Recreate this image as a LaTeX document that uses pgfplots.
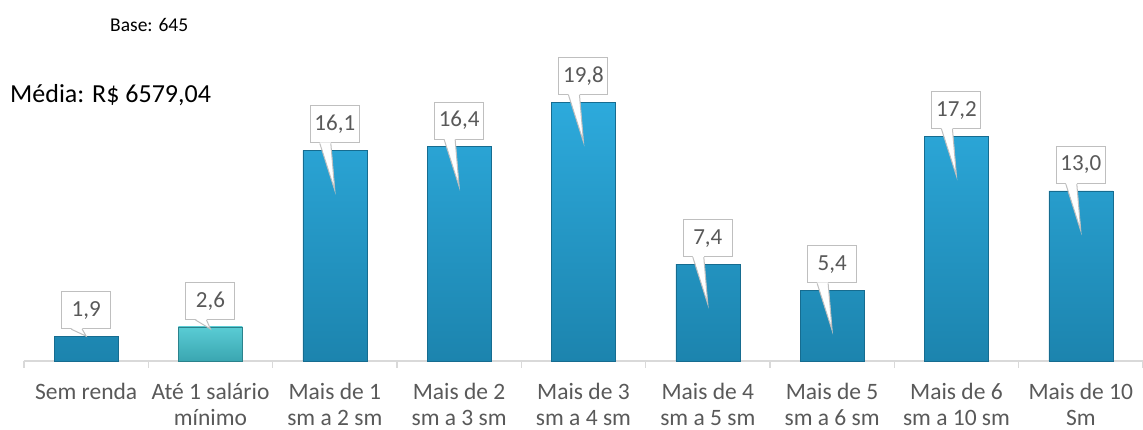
\documentclass[border=0pt]{standalone}
\usepackage{fontspec}
\setmainfont{Carlito}
\usepackage{pgfplots}
\pgfplotsset{compat=1.18}
\usepackage{pgfplotstable}

\definecolor{barTop}{HTML}{2DAADC}
\definecolor{barBot}{HTML}{1C84AE}
\definecolor{barEdge}{HTML}{166C90}
\definecolor{tealTop}{HTML}{5ACCD4}
\definecolor{tealBot}{HTML}{3AA6B1}
\definecolor{tealEdge}{HTML}{2B828C}
\definecolor{boxGray}{HTML}{BFBFBF}
\definecolor{txtGray}{HTML}{595959}
\definecolor{axGray}{HTML}{D9D9D9}

% x = category index, y = percent, tip = how far the callout pointer goes into the bar (pt)
\pgfplotstableread{
x y tip
0 1.9 0
1 2.6 2
2 16.1 40
3 16.4 40
4 19.8 40
5 7.4 40
6 5.4 40
7 17.2 40
8 13.0 40
}\alldata

\pgfplotstableread{
x y
0 1.9
2 16.1
3 16.4
4 19.8
5 7.4
6 5.4
7 17.2
8 13.0
}\bluedata

\pgfplotstableread{
x y
1 2.6
}\tealdata

\begin{document}
\begin{tikzpicture}
\useasboundingbox (-24pt,-69pt) rectangle (1119pt,361pt);
\begin{axis}[
  at={(0,0)}, anchor=south west,
  scale only axis, width=1119pt, height=300pt,
  xmin=-0.5, xmax=8.5, ymin=0, ymax=22.94,
  ybar, bar width=64pt,
  axis y line=none, axis x line*=bottom,
  x axis line style={draw=axGray, line width=1.3pt, -},
  xtick={0,...,8}, major tick length=0pt,
  minor xtick={-0.5,0.5,...,8.5}, minor tick length=7pt, tick align=outside,
  minor tick style={draw=axGray, line width=1.3pt},
  xticklabels={
    {\strut Sem renda},
    {\strut Até 1 salário\\mínimo},
    {\strut Mais de 1\\sm a 2 sm},
    {\strut Mais de 2\\sm a 3 sm},
    {\strut Mais de 3\\sm a 4 sm},
    {\strut Mais de 4\\sm a 5 sm},
    {\strut Mais de 5\\sm a 6 sm},
    {\strut Mais de 6\\sm a 10 sm},
    {\strut Mais de 10\\Sm}},
  xticklabel style={font=\fontsize{23.5}{26}\selectfont, text=txtGray, align=center,
    anchor=north, inner sep=0pt, yshift=-20pt},
  clip=false,
]
\addplot[bar shift=0pt, draw=barEdge, line width=0.5pt, top color=barTop, bottom color=barBot]
  table[x=x,y=y]{\bluedata};
\addplot[bar shift=0pt, draw=tealEdge, line width=0.5pt, top color=tealTop, bottom color=tealBot]
  table[x=x,y=y]{\tealdata};

% callout boxes
\addplot[bar shift=0pt, draw=none, fill=none,
  nodes near coords={\pgfmathprintnumber[fixed,fixed zerofill,precision=1,use comma,assume math mode=true]{\pgfplotspointmeta}},
  every node near coord/.style={anchor=south, yshift=7pt, draw=boxGray, line width=1pt,
    fill=white, text=txtGray, font=\fontsize{23}{28}\selectfont,
    minimum width=49pt, minimum height=37pt, inner xsep=4pt, inner ysep=0pt},
] table[x=x,y=y]{\alldata};

% callout pointers, depth taken from the tip column
\addplot[bar shift=0pt, draw=none, fill=none,
  point meta=explicit symbolic,
  nodes near coords={},
  every node near coord/.style={inner sep=0pt, outer sep=0pt, minimum size=0pt, anchor=center,
    append after command={\pgfextra{
      \edef\tipd{\pgfplotspointmeta}
      \fill[white] ([shift={(-15pt,8pt)}]\tikzlastnode.center)
        -- ([shift={(0pt,-\tipd pt)}]\tikzlastnode.center)
        -- ([shift={(-4pt,8pt)}]\tikzlastnode.center) -- cycle;
      \draw[boxGray, line width=1pt] ([shift={(-15pt,7pt)}]\tikzlastnode.center)
        -- ([shift={(0pt,-\tipd pt)}]\tikzlastnode.center)
        -- ([shift={(-4pt,7pt)}]\tikzlastnode.center);
    }}},
] table[x=x,y=y,meta=tip]{\alldata};
\end{axis}
\node[anchor=base west, inner sep=0pt, font=\fontsize{19.5}{22}\selectfont] at (86pt,329pt) {Base: 645};
\node[anchor=base west, inner sep=0pt, font=\fontsize{26}{30}\selectfont] at (-14pt,258pt) {Média: R\$ 6579,04};
\end{tikzpicture}
\end{document}
